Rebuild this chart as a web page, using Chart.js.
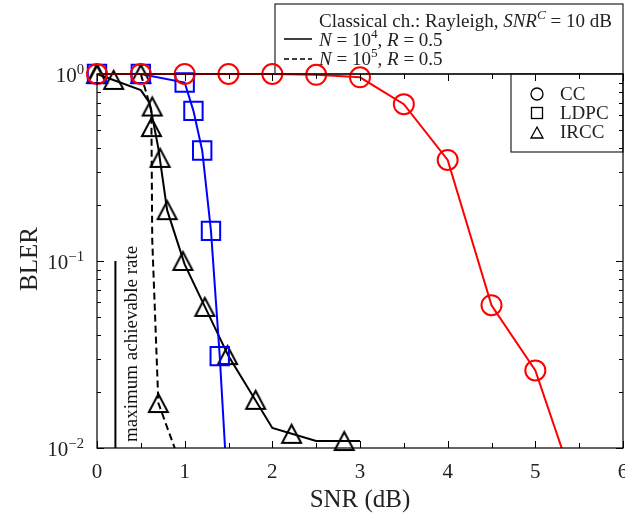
<!DOCTYPE html>
<html>
<head>
<meta charset="utf-8">
<script src="https://cdn.jsdelivr.net/npm/chart.js@4/dist/chart.umd.min.js"></script>
<style>
html, body { margin: 0; padding: 0; background: #fff; }
#wrap { position: relative; width: 625px; height: 520px; }
</style>
</head>
<body>
<div id="wrap"><canvas id="myChart" width="625" height="520"></canvas></div>
<script>
// values (BLER vs SNR in dB)
const snrCC = [0, 0.5, 1, 1.5, 2, 2.5, 3, 3.5, 4, 4.5, 5, 5.5];
const blerCC = [1, 1, 1, 1, 1, 0.99, 0.96, 0.69, 0.347, 0.058, 0.026, 0.0053];

const snrLDPC = [0, 0.5, 1, 1.1, 1.2, 1.3, 1.4, 1.5];
const blerLDPC = [1, 1, 0.9, 0.635, 0.39, 0.145, 0.031, 0.0048];

// IRCC, N = 10^4 (solid)
const snrIRCC4 = [0, 0.5, 0.6, 0.7, 0.8, 1, 1.2, 1.5, 2, 2.5, 3];
const blerIRCC4 = [1, 0.82, 0.70, 0.40, 0.187, 0.096, 0.061, 0.031, 0.0128, 0.0109, 0.0109];
const markSnrIRCC4 = [0, 0.19, 0.63, 0.72, 0.8, 0.98, 1.23, 1.49, 1.81, 2.22, 2.82];
const markBlerIRCC4 = [1, 0.93, 0.67, 0.356, 0.187, 0.1, 0.0568, 0.0314, 0.0181, 0.0119, 0.0109];

// IRCC, N = 10^5 (dashed)
const snrIRCC5 = [0, 0.5, 0.62, 0.63, 0.7, 0.8, 0.9];
const blerIRCC5 = [1, 1, 0.64, 0.13, 0.0174, 0.0129, 0.0096];
const markSnrIRCC5 = [0, 0.5, 0.621, 0.7];
const markBlerIRCC5 = [1, 1, 0.52, 0.0174];

// maximum achievable rate marker line
const rateSnr = [0.21, 0.21];
const rateBler = [0.1, 0.01];

const xTicks = [0, 1, 2, 3, 4, 5, 6];
const yTicks = [1, 0.1, 0.01];
const yTickExp = ['0', '\u22121', '\u22122'];

const SERIF = '"Liberation Serif", "DejaVu Serif", serif';

function pts(xs, ys) {
    return xs.map((x, i) => ({x: x, y: ys[i]}));
}

function makeTriangle(w, h, lw, color) {
    const c = document.createElement('canvas');
    c.width = w + lw * 2 + 4;
    c.height = h + lw * 2 + 4;
    const g = c.getContext('2d');
    g.strokeStyle = color;
    g.lineWidth = lw;
    const cx = c.width / 2, cy = c.height / 2;
    g.beginPath();
    g.moveTo(cx, cy - h / 2);
    g.lineTo(cx + w / 2, cy + h / 2);
    g.lineTo(cx - w / 2, cy + h / 2);
    g.closePath();
    g.stroke();
    return c;
}
const triImg = makeTriangle(19, 18, 2, '#000');

// text with italic / superscript parts
function richWidth(ctx, parts, size) {
    let w = 0;
    parts.forEach(p => {
        const sup = p.s && p.s.indexOf('^') >= 0;
        const it = p.s && p.s.indexOf('i') >= 0;
        ctx.font = (it ? 'italic ' : '') + (sup ? size * 0.7 : size) + 'px ' + SERIF;
        w += ctx.measureText(p.t).width;
    });
    return w;
}
function drawRich(ctx, x, y, parts, size) {
    let cx = x;
    ctx.textAlign = 'left';
    ctx.textBaseline = 'alphabetic';
    parts.forEach(p => {
        const sup = p.s && p.s.indexOf('^') >= 0;
        const it = p.s && p.s.indexOf('i') >= 0;
        ctx.font = (it ? 'italic ' : '') + (sup ? size * 0.7 : size) + 'px ' + SERIF;
        ctx.fillText(p.t, cx, sup ? y - size * 0.4 : y);
        cx += ctx.measureText(p.t).width;
    });
}

const legendPlugin = {
    id: 'legendBoxes',
    beforeDatasetsDraw(chart) {
        const ctx = chart.ctx;
        ctx.save();
        ctx.fillStyle = '#fff';
        ctx.strokeStyle = '#222';
        ctx.lineWidth = 1.2;
        // top box
        ctx.fillRect(275, 4, 348, 70);
        ctx.strokeRect(275, 4, 348, 70);
        // right box
        ctx.fillRect(511, 74, 112, 78);
        ctx.strokeRect(511, 74, 112, 78);

        ctx.fillStyle = '#222';
        drawRich(ctx, 319, 27, [
            {t: 'Classical ch.: Rayleigh, '}, {t: 'SNR', s: 'i'}, {t: 'C', s: 'i^'}, {t: ' = 10 dB'}
        ], 19);
        drawRich(ctx, 319, 46, [
            {t: 'N', s: 'i'}, {t: ' = 10'}, {t: '4', s: '^'}, {t: ', '}, {t: 'R', s: 'i'}, {t: ' = 0.5'}
        ], 19);
        drawRich(ctx, 319, 65, [
            {t: 'N', s: 'i'}, {t: ' = 10'}, {t: '5', s: '^'}, {t: ', '}, {t: 'R', s: 'i'}, {t: ' = 0.5'}
        ], 19);
        ctx.strokeStyle = '#000';
        ctx.lineWidth = 1.5;
        ctx.beginPath();
        ctx.moveTo(284, 39); ctx.lineTo(312, 39);
        ctx.stroke();
        ctx.setLineDash([5, 3]);
        ctx.beginPath();
        ctx.moveTo(284, 59); ctx.lineTo(312, 59);
        ctx.stroke();
        ctx.setLineDash([]);

        // marker legend
        ctx.lineWidth = 1.3;
        ctx.beginPath();
        ctx.arc(537, 94, 6, 0, Math.PI * 2);
        ctx.stroke();
        ctx.strokeRect(531.5, 107.5, 11, 11);
        ctx.beginPath();
        ctx.moveTo(537, 127); ctx.lineTo(543, 138); ctx.lineTo(531, 138); ctx.closePath();
        ctx.stroke();
        drawRich(ctx, 560, 100, [{t: 'CC'}], 19);
        drawRich(ctx, 560, 119, [{t: 'LDPC'}], 19);
        drawRich(ctx, 560, 138, [{t: 'IRCC'}], 19);
        ctx.restore();
    }
};

const axesPlugin = {
    id: 'axesFrame',
    afterDatasetsDraw(chart) {
        const ctx = chart.ctx;
        const a = chart.chartArea;
        const xs = chart.scales.x, ys = chart.scales.y;
        ctx.save();
        ctx.strokeStyle = '#000';
        ctx.lineWidth = 1.2;
        ctx.strokeRect(a.left, a.top, a.right - a.left, a.bottom - a.top);

        // x ticks every 0.5, inward on bottom and top
        ctx.lineWidth = 1;
        for (let v = 0; v <= 6; v += 0.5) {
            const px = Math.round(xs.getPixelForValue(v)) + 0.5;
            const len = (v % 1 === 0) ? 7 : 5;
            ctx.beginPath();
            ctx.moveTo(px, a.bottom); ctx.lineTo(px, a.bottom - len);
            ctx.moveTo(px, a.top); ctx.lineTo(px, a.top + len);
            ctx.stroke();
        }
        // y ticks (log)
        [0.01, 0.1].forEach(dec => {
            for (let m = 1; m <= 9; m++) {
                const py = Math.round(ys.getPixelForValue(dec * m)) + 0.5;
                const len = m === 1 ? 7 : 4;
                ctx.beginPath();
                ctx.moveTo(a.left, py); ctx.lineTo(a.left + len, py);
                ctx.moveTo(a.right, py); ctx.lineTo(a.right - len, py);
                ctx.stroke();
            }
        });

        // tick labels
        ctx.fillStyle = '#222';
        ctx.font = '21px ' + SERIF;
        ctx.textAlign = 'center';
        ctx.textBaseline = 'alphabetic';
        xTicks.forEach(v => {
            ctx.fillText(String(v), xs.getPixelForValue(v), 478);
        });
        yTicks.forEach((v, i) => {
            const parts = [{t: '10'}, {t: yTickExp[i], s: '^'}];
            const w = richWidth(ctx, parts, 21);
            drawRich(ctx, 84 - w, ys.getPixelForValue(v) + 8, parts, 21);
        });

        // axis titles
        ctx.font = '25px ' + SERIF;
        ctx.textAlign = 'center';
        ctx.fillText('SNR (dB)', 360, 507);
        ctx.save();
        ctx.translate(37, 259);
        ctx.rotate(-Math.PI / 2);
        ctx.fillText('BLER', 0, 0);
        ctx.restore();

        // annotation
        ctx.save();
        ctx.fillStyle = '#111';
        ctx.font = '19px ' + SERIF;
        ctx.textAlign = 'left';
        ctx.translate(137, 442);
        ctx.rotate(-Math.PI / 2);
        ctx.fillText('maximum achievable rate', 0, 0);
        ctx.restore();
        ctx.restore();
    }
};

const lineClip = {left: 20, top: 20, right: 0, bottom: 0};

const ctx = document.getElementById('myChart').getContext('2d');
const myChart = new Chart(ctx, {
    type: 'scatter',
    data: {
        datasets: [
            {
                data: pts(rateSnr, rateBler),
                showLine: true,
                borderColor: '#000',
                borderWidth: 2,
                pointRadius: 0,
                clip: lineClip
            },
            {
                data: pts(snrCC, blerCC),
                showLine: true,
                borderColor: '#ff0000',
                borderWidth: 2,
                pointStyle: 'circle',
                pointRadius: 10,
                pointBorderWidth: 2,
                pointBorderColor: '#ff0000',
                pointBackgroundColor: 'rgba(0,0,0,0)',
                clip: lineClip
            },
            {
                data: pts(snrLDPC, blerLDPC),
                showLine: true,
                borderColor: '#0000ff',
                borderWidth: 2,
                pointStyle: 'rect',
                pointRadius: 13,
                pointBorderWidth: 2,
                pointBorderColor: '#0000ff',
                pointBackgroundColor: 'rgba(0,0,0,0)',
                clip: lineClip
            },
            {
                data: pts(snrIRCC4, blerIRCC4),
                showLine: true,
                borderColor: '#000',
                borderWidth: 2,
                pointRadius: 0,
                clip: lineClip
            },
            {
                data: pts(snrIRCC5, blerIRCC5),
                showLine: true,
                borderColor: '#000',
                borderWidth: 2,
                borderDash: [7, 4],
                pointRadius: 0,
                clip: lineClip
            },
            {
                data: pts(markSnrIRCC4, markBlerIRCC4),
                showLine: false,
                pointStyle: triImg,
                pointRadius: 9,
                clip: false
            },
            {
                data: pts(markSnrIRCC5, markBlerIRCC5),
                showLine: false,
                pointStyle: triImg,
                pointRadius: 9,
                clip: false
            }
        ]
    },
    options: {
        responsive: false,
        animation: false,
        devicePixelRatio: 1,
        layout: { autoPadding: false, padding: { left: 97, right: 2, top: 74, bottom: 72 } },
        plugins: {
            legend: { display: false },
            tooltip: { enabled: false }
        },
        elements: { line: { tension: 0 } },
        scales: {
            x: { type: 'linear', min: 0, max: 6, display: false },
            y: { type: 'logarithmic', min: 0.01, max: 1, display: false }
        }
    },
    plugins: [legendPlugin, axesPlugin]
});
</script>
</body>
</html>
